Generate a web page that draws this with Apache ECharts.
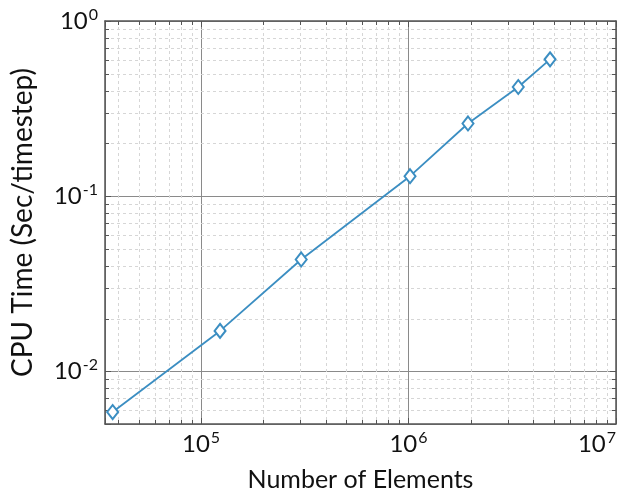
<!DOCTYPE html>
<html>
<head>
<meta charset="utf-8">
<script src="https://cdn.jsdelivr.net/npm/echarts@6/dist/echarts.min.js"></script>
<style>
  html, body { margin: 0; padding: 0; background: #fff; }
  #chart { width: 636px; height: 498px; }
</style>
</head>
<body>
<div id="chart"></div>
<script>
// data
var elements = [37500, 123500, 304000, 1017000, 1935000, 3380000, 4810000];
var cpuTime = [0.00585, 0.0170, 0.0435, 0.130, 0.260, 0.420, 0.604];

var xMin = 34450, xMax = 1e7;
var yMin = 0.005, yMax = 1;
var xDecades = [1e4, 1e5, 1e6];
var yDecades = [1e-3, 1e-2, 1e-1];
var minorSteps = [2, 3, 4, 5, 6, 7, 8, 9];

function minorsOf(decades, lo, hi) {
  var out = [];
  decades.forEach(function (d) {
    minorSteps.forEach(function (m) {
      var v = d * m;
      if (v > lo * 1.0001 && v < hi * 0.9999) out.push(v);
    });
  });
  return out;
}
var xMinor = minorsOf(xDecades, xMin, xMax);
var yMinor = minorsOf(yDecades, yMin, yMax);

var axisColor = '#555';
var font = 'Lato';

function powLabel(v) {
  var e = Math.log10(v);
  if (Math.abs(e - Math.round(e)) > 1e-6) return '';
  return '{b|10}{s|' + Math.round(e) + '}';
}
var labelRich = {
  b: { fontSize: 24, fontFamily: font, color: '#111' },
  s: { fontSize: 16, fontFamily: font, color: '#111', padding: [0, 0, 13, 1] }
};

var chart = echarts.init(document.getElementById('chart'));

var option = {
  backgroundColor: '#fff',
  animation: false,
  grid: { left: 105, right: 20, top: 21, bottom: 74 },
  xAxis: [
    {
      type: 'log', min: xMin, max: xMax, position: 'bottom',
      name: 'Number of Elements', nameLocation: 'middle', nameGap: 43,
      nameTextStyle: { fontSize: 25, fontFamily: font, color: '#111' },
      axisLine: { lineStyle: { color: axisColor, width: 1.5 } },
      axisTick: { inside: true, length: 6, lineStyle: { color: axisColor } },
      axisLabel: { formatter: powLabel, rich: labelRich, margin: 6, alignMaxLabel: 'right' },
      splitLine: { show: true, lineStyle: { color: '#8a8a8a', width: 1 } },
      minorTick: { show: false }
    },
    {
      type: 'log', min: xMin, max: xMax, position: 'top',
      axisLine: { lineStyle: { color: axisColor, width: 1.5 } },
      axisTick: { inside: true, length: 6, lineStyle: { color: axisColor } },
      axisLabel: { show: false },
      splitLine: { show: false }
    }
  ],
  yAxis: [
    {
      type: 'log', min: yMin, max: yMax, position: 'left',
      name: 'CPU Time (Sec/timestep)', nameLocation: 'middle', nameGap: 68,
      nameTextStyle: { fontSize: 28, fontFamily: font, color: '#111' },
      axisLine: { lineStyle: { color: axisColor, width: 1.5 } },
      axisTick: { inside: true, length: 6, lineStyle: { color: axisColor } },
      axisLabel: { formatter: powLabel, rich: labelRich, margin: 7 },
      splitLine: { show: true, lineStyle: { color: '#8a8a8a', width: 1 } }
    },
    {
      type: 'log', min: yMin, max: yMax, position: 'right',
      axisLine: { lineStyle: { color: axisColor, width: 1.5 } },
      axisTick: { inside: true, length: 6, lineStyle: { color: axisColor } },
      axisLabel: { show: false },
      splitLine: { show: false }
    }
  ],
  series: [
    {
      // minor grid + minor ticks along x
      type: 'custom', silent: true, z: 1,
      xAxisIndex: 0, yAxisIndex: 0,
      data: xMinor.map(function (v) { return [v, 0.01]; }),
      renderItem: function (params, api) {
        var cs = params.coordSys;
        var px = Math.round(api.coord([api.value(0), 0.01])[0]) + 0.5;
        var top = cs.y, bot = cs.y + cs.height;
        return {
          type: 'group', children: [
            { type: 'line', shape: { x1: px, y1: top, x2: px, y2: bot },
              style: { stroke: '#d6d6d6', lineWidth: 1, lineDash: [3, 3] } },
            { type: 'line', shape: { x1: px, y1: bot, x2: px, y2: bot - 4 },
              style: { stroke: axisColor, lineWidth: 1 } },
            { type: 'line', shape: { x1: px, y1: top, x2: px, y2: top + 4 },
              style: { stroke: axisColor, lineWidth: 1 } }
          ]
        };
      }
    },
    {
      // minor grid + minor ticks along y
      type: 'custom', silent: true, z: 1,
      xAxisIndex: 0, yAxisIndex: 0,
      data: yMinor.map(function (v) { return [1e5, v]; }),
      renderItem: function (params, api) {
        var cs = params.coordSys;
        var py = Math.round(api.coord([1e5, api.value(1)])[1]) + 0.5;
        var left = cs.x, right = cs.x + cs.width;
        return {
          type: 'group', children: [
            { type: 'line', shape: { x1: left, y1: py, x2: right, y2: py },
              style: { stroke: '#d6d6d6', lineWidth: 1, lineDash: [3, 3] } },
            { type: 'line', shape: { x1: left, y1: py, x2: left + 4, y2: py },
              style: { stroke: axisColor, lineWidth: 1 } },
            { type: 'line', shape: { x1: right, y1: py, x2: right - 4, y2: py },
              style: { stroke: axisColor, lineWidth: 1 } }
          ]
        };
      }
    },
    {
      name: 'CPU time', type: 'line', z: 3,
      xAxisIndex: 0, yAxisIndex: 0,
      data: elements.map(function (x, i) { return [x, cpuTime[i]]; }),
      symbol: 'emptyDiamond', symbolSize: [11, 14], showAllSymbol: true,
      lineStyle: { color: '#3b8ec2', width: 1.8 },
      itemStyle: { color: '#3b8ec2', borderWidth: 1.5 }
    }
  ]
};

chart.setOption(option);
</script>
</body>
</html>
